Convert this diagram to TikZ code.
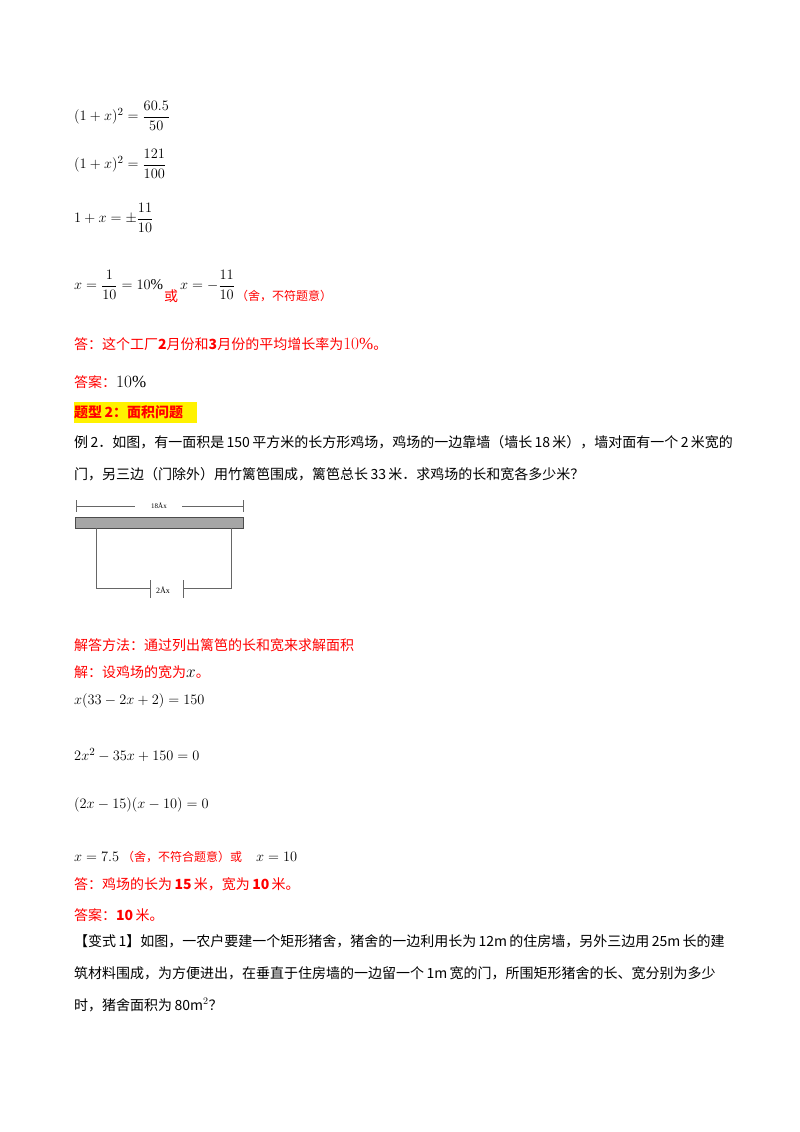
\documentclass[tikz,border=0pt]{standalone}
\usepackage{amsmath}
\usepackage{fontspec}
\setmainfont{Liberation Serif}
\newfontfamily\cjk{Noto Sans CJK SC}
\begin{document}
\begin{tikzpicture}[x=1pt,y=-1pt,
  t/.style={anchor=west,inner sep=0pt,font=\fontsize{14}{16}\selectfont},
  m/.style={t,font=\fontsize{15}{17}\selectfont},
  r/.style={t,text=red},
  dim/.style={draw=black!60,line width=0.6pt}]
\useasboundingbox[fill=white] (0,0) rectangle (800,1132);
\node[m] (e1) at (74,116) {$(1+x)^2=\dfrac{60.5}{50}$};
\node[m] (e2) at (74,164) {$(1+x)^2=\dfrac{121}{100}$};
\node[m] (e3) at (74,218) {$1+x=\pm\dfrac{11}{10}$};
\node[m] (e4) at (74,285) {$x=\dfrac{1}{10}=10\%$};
\node[r] (or) at (164,296) {\cjk 或};
\node[m] (e5) at (180,285) {$x=-\dfrac{11}{10}$};
\node[r,font=\fontsize{12}{14}\selectfont] (sh) at (236,296) {\cjk （舍，不符题意）};
\node[r] (a1) at (74,344) {\cjk 答：这个工厂\textbf{2}月份和\textbf{3}月份的平均增长率为\rmfamily\fontsize{17}{18}\selectfont$10\%$\cjk\fontsize{14}{16}\selectfont 。};
\node[r] (a2) at (74,382) {\cjk 答案：\rmfamily\fontsize{17}{18}\selectfont\color{black}$10\%$};
\fill[yellow] (74,402) rectangle (197,423);
\node[r] (h2) at (74,412) {\cjk\bfseries 题型\,\textbf{2}：面积问题};
\node[t] (p1) at (74,442) {\cjk 例\,2．如图，有一面积是\,150\,平方米的长方形鸡场，鸡场的一边靠墙（墙长\,18\,米），墙对面有一个\,2\,米宽的};
\node[t] (p2) at (74,474) {\cjk 门，另三边（门除外）用竹篱笆围成，篱笆总长\,33\,米．求鸡场的长和宽各多少米？};
% diagram
\draw[fill=black!35,draw=black!70] (75,517) rectangle (243,528);
\node[font=\fontsize{7}{8}\selectfont,inner sep=0pt] (l18) at (159,506) {18Åx};
\coordinate (tl) at (76,506); \coordinate (tr) at (243,506);
\draw[dim] (76,500) -- (76,512); \draw[dim] (243,500) -- (243,512);
\draw[dim] (tl) -- (135,506); \draw[dim] (182,506) -- (tr);
\draw[dim] (96,528) -- (96,588) -- (150,588);
\draw[dim] (231,528) -- (231,588) -- (183,588);
\draw[dim] (150,580) -- (150,598); \draw[dim] (183,580) -- (183,598);
\node[font=\fontsize{8}{9}\selectfont,inner sep=0pt] (l2) at (163,590) {2Åx};
\node[r] (s1) at (74,645) {\cjk 解答方法：通过列出篱笆的长和宽来求解面积};
\node[r] (s2) at (74,672) {\cjk 解：设鸡场的宽为\rmfamily\fontsize{17}{18}\selectfont\color{black}$x$\cjk\fontsize{14}{16}\selectfont\color{red} 。};
\node[m] (m1) at (74,701) {$x(33-2x+2)=150$};
\node[m] (m2) at (74,755) {$2x^2-35x+150=0$};
\node[m] (m3) at (74,805) {$(2x-15)(x-10)=0$};
\node[m] (m4) at (74,857) {$x=7.5$};
\node[r,font=\fontsize{12}{14}\selectfont] (m5) at (122,857) {\cjk （舍，不符合题意）或};
\node[m] (m6) at (256,857) {$x=10$};
\node[r] (a3) at (74,884) {\cjk 答：鸡场的长为\,\textbf{15}\,米，宽为\,\textbf{10}\,米。};
\node[r] (a4) at (74,915) {\cjk 答案：\textbf{10}\,米。};
\node[t] (v1) at (74,941) {\cjk 【变式\,1】如图，一农户要建一个矩形猪舍，猪舍的一边利用长为\,12m\,的住房墙，另外三边用\,25m\,长的建};
\node[t] (v2) at (74,973) {\cjk 筑材料围成，为方便进出，在垂直于住房墙的一边留一个\,1m\,宽的门，所围矩形猪舍的长、宽分别为多少};
\node[t] (v3) at (74,1005) {\cjk 时，猪舍面积为\,80m$^2$？};
\end{tikzpicture}
\end{document}
